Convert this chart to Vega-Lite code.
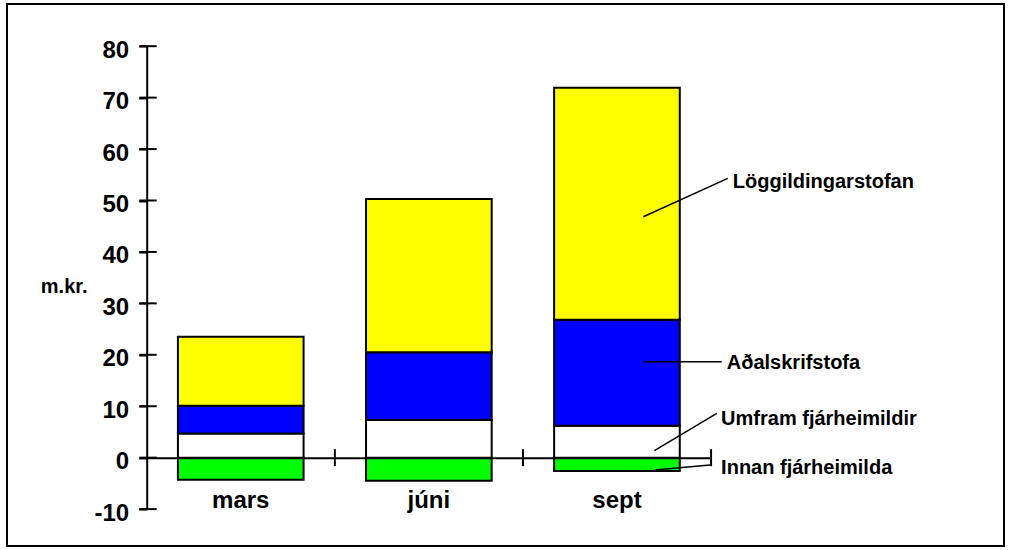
{
  "$schema": "https://vega.github.io/schema/vega-lite/v6.json",
  "width": 997,
  "height": 542,
  "autosize": {"type": "none"},
  "padding": {"left": 7, "top": 4, "right": 7, "bottom": 4},
  "background": "white",
  "config": {
    "view": {"stroke": "black", "strokeWidth": 2},
    "font": "Liberation Sans",
    "axis": {"grid": false}
  },
  "datasets": {
    "bars": [
      {"month": "mars", "series": "Innan fjárheimilda", "value": -4.3, "k": 0},
      {"month": "mars", "series": "Umfram fjárheimildir", "value": 4.7, "k": 1},
      {"month": "mars", "series": "Aðalskrifstofa", "value": 5.4, "k": 2},
      {"month": "mars", "series": "Löggildingarstofan", "value": 13.4, "k": 3},
      {"month": "júni", "series": "Innan fjárheimilda", "value": -4.5, "k": 0},
      {"month": "júni", "series": "Umfram fjárheimildir", "value": 7.3, "k": 1},
      {"month": "júni", "series": "Aðalskrifstofa", "value": 13.2, "k": 2},
      {"month": "júni", "series": "Löggildingarstofan", "value": 29.8, "k": 3},
      {"month": "sept", "series": "Innan fjárheimilda", "value": -2.6, "k": 0},
      {"month": "sept", "series": "Umfram fjárheimildir", "value": 6.2, "k": 1},
      {"month": "sept", "series": "Aðalskrifstofa", "value": 20.6, "k": 2},
      {"month": "sept", "series": "Löggildingarstofan", "value": 45.1, "k": 3}
    ],
    "notes": [
      {"series": "Löggildingarstofan", "month": "sept", "y1": 46.85, "y2": 54.3, "ty": 53.65},
      {"series": "Aðalskrifstofa", "month": "sept", "y1": 18.66, "y2": 18.66, "ty": 18.35},
      {"series": "Umfram fjárheimildir", "month": "sept", "y1": 1.36, "y2": 8.63, "ty": 7.46},
      {"series": "Innan fjárheimilda", "month": "sept", "y1": -2.39, "y2": -1.42, "ty": -2.06}
    ],
    "months": [{"month": "mars"}, {"month": "júni"}, {"month": "sept"}],
    "yticks": [
      {"v": -10, "month": "mars"}, {"v": 0, "month": "mars"}, {"v": 10, "month": "mars"}, {"v": 20, "month": "mars"},
      {"v": 30, "month": "mars"}, {"v": 40, "month": "mars"}, {"v": 50, "month": "mars"}, {"v": 60, "month": "mars"},
      {"v": 70, "month": "mars"}, {"v": 80, "month": "mars"}
    ]
  },
  "layer": [
    {
      "data": {"name": "bars"},
      "mark": {"type": "bar", "stroke": "black", "strokeWidth": 2},
      "encoding": {
        "x": {
          "field": "month",
          "type": "nominal",
          "scale": {"domain": ["mars", "júni", "sept"], "range": [139.7, 704], "paddingInner": 0.332, "paddingOuter": 0.166},
          "axis": {
            "orient": "bottom", "offset": -88.3, "ticks": false,
            "domainColor": "black", "domainWidth": 2,
            "labelFont": "Liberation Sans", "labelFontSize": 24, "labelFontWeight": "bold", "labelColor": "black",
            "labelPadding": 31, "labelAngle": 0, "title": null, "zindex": 1
          }
        },
        "y": {
          "field": "value",
          "type": "quantitative",
          "stack": "zero",
          "scale": {"domain": [-10, 80], "range": [505.1, 42.2], "nice": false},
          "axis": {
            "orient": "left", "offset": -139.7, "values": [-10, 0, 10, 20, 30, 40, 50, 60, 70, 80],
            "ticks": true, "tickSize": 8, "tickWidth": 2, "tickColor": "black", "domainColor": "black", "domainWidth": 2,
            "labelFont": "Liberation Sans", "labelFontSize": 24, "labelFontWeight": "bold", "labelColor": "black",
            "labelPadding": 10, "labelOffset": 4, "labelExpr": "'' + datum.value",
            "title": "m.kr.", "titleAngle": 0, "titleFont": "Liberation Sans", "titleFontSize": 20, "titleFontWeight": "bold",
            "titleColor": "black", "titleAlign": "right", "titleBaseline": "middle", "titlePadding": 7, "titleY": 282.7, "zindex": 1
          }
        },
        "color": {
          "field": "series",
          "type": "nominal",
          "scale": {
            "domain": ["Innan fjárheimilda", "Umfram fjárheimildir", "Aðalskrifstofa", "Löggildingarstofan"],
            "range": ["#00FF00", "#FFFFFF", "#0000FF", "#FFFF00"]
          },
          "legend": null
        },
        "order": {"field": "k", "type": "quantitative"}
      }
    },
    {
      "data": {"name": "months"},
      "mark": {"type": "tick", "orient": "vertical", "color": "black", "thickness": 2, "size": 17, "opacity": 1},
      "encoding": {
        "x": {"field": "month", "type": "nominal", "bandPosition": 1.249},
        "y": {"datum": 0, "type": "quantitative"}
      }
    },
    {
      "data": {"name": "yticks"},
      "mark": {"type": "rule", "color": "black", "strokeWidth": 2},
      "encoding": {
        "x": {"field": "month", "type": "nominal", "bandPosition": -0.307},
        "x2": {"field": "month", "bandPosition": -0.169},
        "y": {"field": "v", "type": "quantitative"}
      }
    },
    {
      "data": {"name": "notes"},
      "transform": [{"filter": "datum.series === 'Löggildingarstofan'"}],
      "mark": {"type": "rule", "color": "black", "strokeWidth": 1.5},
      "encoding": {
        "x": {"field": "month", "type": "nominal", "bandPosition": 0.71},
        "x2": {"field": "month", "bandPosition": 1.382},
        "y": {"field": "y1", "type": "quantitative"},
        "y2": {"field": "y2"}
      }
    },
    {
      "data": {"name": "notes"},
      "transform": [{"filter": "datum.series === 'Aðalskrifstofa'"}],
      "mark": {"type": "rule", "color": "black", "strokeWidth": 1.5},
      "encoding": {
        "x": {"field": "month", "type": "nominal", "bandPosition": 0.71},
        "x2": {"field": "month", "bandPosition": 1.334},
        "y": {"field": "y1", "type": "quantitative"},
        "y2": {"field": "y2"}
      }
    },
    {
      "data": {"name": "notes"},
      "transform": [{"filter": "datum.series === 'Umfram fjárheimildir'"}],
      "mark": {"type": "rule", "color": "black", "strokeWidth": 1.5},
      "encoding": {
        "x": {"field": "month", "type": "nominal", "bandPosition": 0.798},
        "x2": {"field": "month", "bandPosition": 1.295},
        "y": {"field": "y1", "type": "quantitative"},
        "y2": {"field": "y2"}
      }
    },
    {
      "data": {"name": "notes"},
      "transform": [{"filter": "datum.series === 'Innan fjárheimilda'"}],
      "mark": {"type": "rule", "color": "black", "strokeWidth": 1.5},
      "encoding": {
        "x": {"field": "month", "type": "nominal", "bandPosition": 0.798},
        "x2": {"field": "month", "bandPosition": 1.241},
        "y": {"field": "y1", "type": "quantitative"},
        "y2": {"field": "y2"}
      }
    },
    {
      "data": {"name": "notes"},
      "transform": [{"filter": "datum.series === 'Umfram fjárheimildir' || datum.series === 'Innan fjárheimilda'"}],
      "mark": {"type": "text", "align": "left", "baseline": "middle", "font": "Liberation Sans", "fontSize": 20, "fontWeight": "bold", "color": "black"},
      "encoding": {
        "x": {"field": "month", "type": "nominal", "bandPosition": 1.329},
        "y": {"field": "ty", "type": "quantitative"},
        "text": {"field": "series"}
      }
    },
    {
      "data": {"name": "notes"},
      "transform": [{"filter": "datum.series === 'Aðalskrifstofa'"}],
      "mark": {"type": "text", "align": "left", "baseline": "middle", "font": "Liberation Sans", "fontSize": 20, "fontWeight": "bold", "color": "black"},
      "encoding": {
        "x": {"field": "month", "type": "nominal", "bandPosition": 1.374},
        "y": {"field": "ty", "type": "quantitative"},
        "text": {"field": "series"}
      }
    },
    {
      "data": {"name": "notes"},
      "transform": [{"filter": "datum.series === 'Löggildingarstofan'"}],
      "mark": {"type": "text", "align": "left", "baseline": "middle", "font": "Liberation Sans", "fontSize": 20, "fontWeight": "bold", "color": "black"},
      "encoding": {
        "x": {"field": "month", "type": "nominal", "bandPosition": 1.422},
        "y": {"field": "ty", "type": "quantitative"},
        "text": {"field": "series"}
      }
    }
  ]
}
